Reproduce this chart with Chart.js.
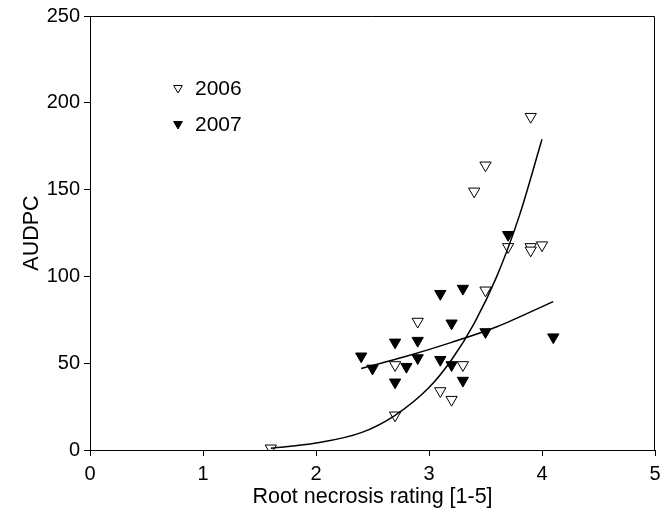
<!DOCTYPE html>
<html>
<head>
<meta charset="utf-8">
<script src="https://cdn.jsdelivr.net/npm/chart.js@4/dist/chart.umd.min.js"></script>
<style>
  html, body { margin: 0; padding: 0; background: #fff; }
  #wrap { width: 664px; height: 513px; }
</style>
</head>
<body>
<div id="wrap"><canvas id="chart" width="664" height="513"></canvas></div>
<script>
// ─── Data ────────────────────────────────────────────────────────────────────
const rating2006 = [1.6, 2.7, 2.7, 2.9, 3.1, 3.2, 3.3, 3.4, 3.5, 3.5, 3.7, 3.9, 3.9, 3.9, 4.0];
const audpc2006  = [1,   20,  49,  74,  34,  29,  49,  149, 164, 92,  117, 192, 117, 115, 118];

const rating2007 = [2.4, 2.5, 2.7, 2.7, 2.8, 2.9, 2.9, 3.1, 3.1, 3.2, 3.2, 3.3, 3.3, 3.5, 3.7, 4.1];
const audpc2007  = [54,  47,  62,  39,  48,  63,  53,  90,  52,  73,  49,  93,  40,  68,  124, 65];

// fitted curves
const fitX2006 = [1.6, 2.0, 2.4, 2.7, 3.0, 3.2, 3.4, 3.6, 3.8, 4.0];
const fitY2006 = [1,   4,   10,  20,  36,  52,  73,  100, 135, 179];
const fitX2007 = [2.4, 2.8, 3.2, 3.6, 4.1];
const fitY2007 = [47,  54,  62,  71,  85.5];

const xTicks = [0, 1, 2, 3, 4, 5];
const yTicks = [0, 50, 100, 150, 200, 250];

const FONT = "'Liberation Sans', Arial, Helvetica, sans-serif";
const pts = (xs, ys) => xs.map((x, i) => ({ x, y: ys[i] }));

// ─── Plot frame + legend ────────────────────────────────────────────────────
const framePlugin = {
    id: 'frame',
    afterDraw(chart) {
        const { ctx, chartArea: a } = chart;
        ctx.save();
        ctx.strokeStyle = '#000';
        ctx.lineWidth = 1;
        ctx.beginPath();
        ctx.moveTo(a.left, a.top + 0.5);
        ctx.lineTo(a.right - 0.5, a.top + 0.5);
        ctx.lineTo(a.right - 0.5, a.bottom);
        ctx.stroke();

        // legend
        const items = [
            { label: '2006', fill: '#fff', y: 88 },
            { label: '2007', fill: '#000', y: 124 },
        ];
        ctx.font = `21px ${FONT}`;
        ctx.textBaseline = 'middle';
        for (const it of items) {
            ctx.fillStyle = it.fill;
            ctx.strokeStyle = '#000';
            ctx.lineWidth = 1;
            Chart.helpers.drawPoint(ctx, { pointStyle: 'triangle', radius: 5, rotation: 180, borderWidth: 1 }, 178, it.y);
            ctx.fillStyle = '#000';
            ctx.fillText(it.label, 195, it.y + 1);
        }
        ctx.restore();
    }
};

const markerBase = {
    showLine: false,
    pointStyle: 'triangle',
    pointRotation: 180,
    pointRadius: 6.5,
    pointHoverRadius: 6.5,
    pointBorderColor: '#000',
    pointBorderWidth: 1,
};

new Chart(document.getElementById('chart'), {
    type: 'scatter',
    data: {
        datasets: [
            {
                label: 'fit 2006',
                data: pts(fitX2006, fitY2006),
                showLine: true,
                borderColor: '#000',
                borderWidth: 1.5,
                pointRadius: 0,
                cubicInterpolationMode: 'monotone',
            },
            {
                label: 'fit 2007',
                data: pts(fitX2007, fitY2007),
                showLine: true,
                borderColor: '#000',
                borderWidth: 1.5,
                pointRadius: 0,
                cubicInterpolationMode: 'monotone',
            },
            {
                ...markerBase,
                label: '2006',
                data: pts(rating2006, audpc2006),
                pointBackgroundColor: '#fff',
            },
            {
                ...markerBase,
                label: '2007',
                data: pts(rating2007, audpc2007),
                pointBackgroundColor: '#000',
            },
        ]
    },
    options: {
        responsive: false,
        animation: false,
        layout: { autoPadding: false, padding: { left: 0, right: 9, top: 16, bottom: 0 } },
        scales: {
            x: {
                type: 'linear',
                min: 0, max: 5,
                afterBuildTicks: (s) => { s.ticks = xTicks.map(v => ({ value: v })); },
                // fixed box; drop the extra room Chart.js keeps for the last label
                afterFit: (s) => { s.height = 63; s.paddingRight = 0; s.paddingLeft = 0; },
                grid: { drawOnChartArea: false, drawTicks: true, tickLength: 6, color: '#000' },
                border: { display: true, color: '#000', width: 1 },
                ticks: { color: '#000', font: { family: FONT, size: 20 }, padding: 6, maxRotation: 0 },
                title: {
                    display: true,
                    text: 'Root necrosis rating [1-5]',
                    color: '#000',
                    font: { family: FONT, size: 21.5 },
                    padding: { top: 0, bottom: 3 },
                },
            },
            y: {
                type: 'linear',
                min: 0, max: 250,
                afterBuildTicks: (s) => { s.ticks = yTicks.map(v => ({ value: v })); },
                afterFit: (s) => { s.width = 90; },
                grid: { drawOnChartArea: false, drawTicks: true, tickLength: 6, color: '#000' },
                border: { display: true, color: '#000', width: 1 },
                ticks: { color: '#000', font: { family: FONT, size: 20 }, padding: 4 },
                title: {
                    display: true,
                    text: 'AUDPC',
                    color: '#000',
                    font: { family: FONT, size: 21.5 },
                    padding: { top: 19, bottom: 0 },
                },
            },
        },
        plugins: {
            legend: { display: false },
            tooltip: { enabled: false },
        },
    },
    plugins: [framePlugin],
});
</script>
</body>
</html>
